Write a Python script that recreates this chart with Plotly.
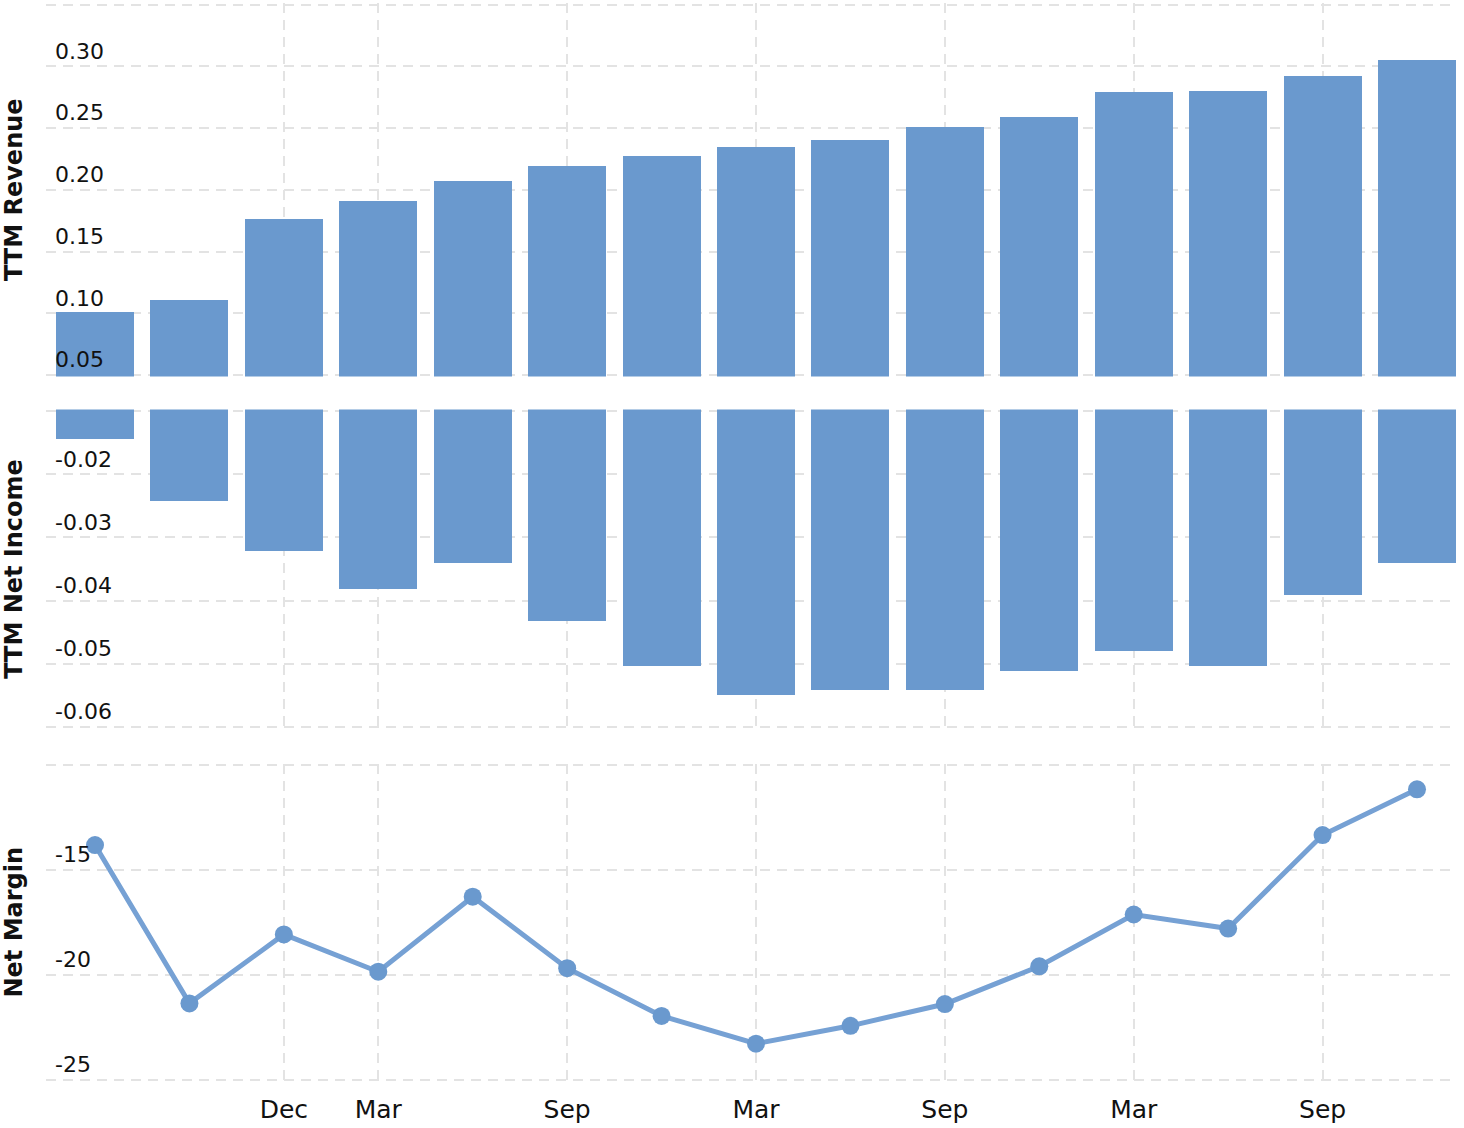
import plotly.graph_objects as go
from plotly.subplots import make_subplots

# Quarter-end months (index 0..14)
quarters = ["Jun", "Sep", "Dec", "Mar", "Jun", "Sep", "Dec", "Mar",
            "Jun", "Sep", "Dec", "Mar", "Jun", "Sep", "Dec"]
ttm_revenue = [0.101, 0.111, 0.176, 0.191, 0.207, 0.219, 0.227, 0.235,
               0.240, 0.251, 0.259, 0.279, 0.280, 0.292, 0.305]
ttm_net_income = [-0.0144, -0.0241, -0.0321, -0.0381, -0.0340, -0.0432, -0.0502, -0.0549,
                  -0.0540, -0.0540, -0.0511, -0.0479, -0.0502, -0.0390, -0.0340]
net_margin = [-13.82, -21.37, -18.08, -19.86, -16.28, -19.69, -21.97, -23.29,
              -22.44, -21.40, -19.60, -17.13, -17.80, -13.34, -11.16]
tick_idx = [2, 3, 5, 7, 9, 11, 13]
tick_text = [quarters[i] for i in tick_idx]

x = list(range(len(quarters)))
bar_color = "#6a99ce"
grid_color = "#e3e3e3"
font_family = "DejaVu Sans"

fig = make_subplots(rows=3, cols=1, shared_xaxes=False, vertical_spacing=0.03)

fig.add_trace(go.Bar(x=x, y=ttm_revenue, marker_color=bar_color, marker_line_width=0,
                     width=0.826, base=0), row=1, col=1)
fig.add_trace(go.Bar(x=x, y=ttm_net_income, marker_color=bar_color, marker_line_width=0,
                     width=0.826, base=0), row=2, col=1)
fig.add_trace(go.Scatter(x=x, y=net_margin, mode="lines+markers",
                         line=dict(color="#76a1d4", width=5),
                         marker=dict(color=bar_color, size=18)), row=3, col=1)

xr = [-0.519, 14.413]
for r in (1, 2, 3):
    fig.update_xaxes(row=r, col=1, range=xr, tickvals=tick_idx, ticktext=tick_text,
                     showgrid=True, gridcolor=grid_color, gridwidth=2, griddash="10px,7px",
                     zeroline=False, showline=False, ticks="",
                     showticklabels=(r == 3), ticklabelstandoff=11, automargin=False,
                     tickfont=dict(family=font_family, size=25, color="#111"))

yaxis_common = dict(showgrid=True, gridcolor=grid_color, gridwidth=2, griddash="10px,7px",
                    zeroline=False, showline=False, ticks="",
                    ticklabelposition="inside top", ticklabelstandoff=6,
                    automargin=False,
                    tickfont=dict(family=font_family, size=22, color="#111"),
                    title_font=dict(family=font_family, size=24, color="#111"),
                    title_standoff=28)

fig.update_yaxes(row=1, col=1, range=[0.04878, 0.35122],
                 tickvals=[0.05, 0.10, 0.15, 0.20, 0.25, 0.30, 0.35],
                 ticktext=["0.05", "0.10", "0.15", "0.20", "0.25", "0.30", ""],
                 title_text="<b>TTM Revenue</b>", **yaxis_common)
fig.update_yaxes(row=2, col=1, range=[-0.06024, -0.00976],
                 tickvals=[-0.06, -0.05, -0.04, -0.03, -0.02, -0.01],
                 ticktext=["-0.06", "-0.05", "-0.04", "-0.03", "-0.02", ""],
                 title_text="<b>TTM Net Income</b>", **yaxis_common)
fig.update_yaxes(row=3, col=1, range=[-25.0717, -9.9283],
                 tickvals=[-25, -20, -15, -10],
                 ticktext=["-25", "-20", "-15", ""],
                 title_text="<b>Net Margin</b>", **yaxis_common)

BOT = 1081.0
H = 1078.0
fig.update_layout(
    width=1464, height=1128,
    margin=dict(l=46, r=8, t=3, b=47),
    paper_bgcolor="white", plot_bgcolor="white",
    showlegend=False, bargap=0,
    font=dict(family=font_family, color="#111"),
    yaxis=dict(domain=[(BOT - 376.5) / H, 1.0]),
    yaxis2=dict(domain=[(BOT - 728.5) / H, (BOT - 409.5) / H]),
    yaxis3=dict(domain=[0.0, (BOT - 763.5) / H]),
)

fig.write_html("out.html")
